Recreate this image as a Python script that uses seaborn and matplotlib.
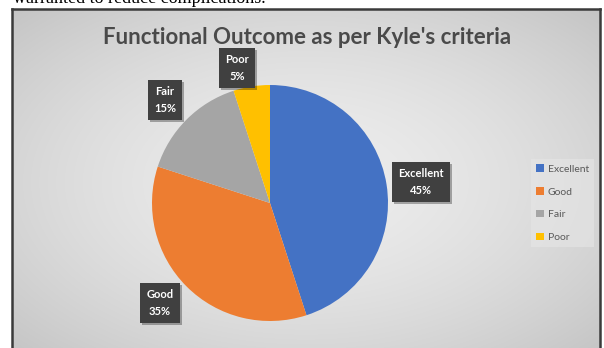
import numpy as np
import matplotlib
matplotlib.use("Agg")
import matplotlib.pyplot as plt
import matplotlib.patches as mpatches
import matplotlib.patheffects as pe
import seaborn as sns

# ---- data ----
categories = ["Excellent", "Good", "Fair", "Poor"]
values = [45, 35, 15, 5]
colors = ["#4472C4", "#ED7D31", "#A5A5A5", "#FFC000"]
title = "Functional Outcome as per Kyle's criteria"
caption = "warranted to reduce complications."

sns.set_style("white")
plt.rcParams['font.family'] = ['Lato', 'DejaVu Sans']

W, H = 604, 348
fig = plt.figure(figsize=(W / 100, H / 100), dpi=100)
fig.patch.set_facecolor("white")

def px_rect(x0, y0, x1, y1):
    return [x0 / W, 1 - y1 / H, (x1 - x0) / W, (y1 - y0) / H]

# background frame with radial gradient
bg = fig.add_axes(px_rect(12, 9, 600, 356))
yy, xx = np.mgrid[-1:1:200j, -1:1:300j]
r = np.sqrt(xx ** 2 + yy ** 2) / np.sqrt(2)
grad = 0.93 - 0.16 * r ** 1.6
bg.imshow(np.dstack([grad, grad, grad]), aspect="auto", extent=[0, 1, 0, 1],
          interpolation="bilinear")
bg.set_xticks([]); bg.set_yticks([])
for s in bg.spines.values():
    s.set_color("#3a3a3a")
    s.set_linewidth(1.8)

# caption line (cut off at top, as in the source)
fig.text(13 / W, 1 - 3 / H, caption, family="Liberation Serif", fontsize=13,
         color="black", va="baseline", ha="left")

# title
fig.text(307 / W, 1 - 38 / H, title, fontsize=16, fontweight="bold",
         color="#4a4a4a", ha="center", va="center")

# pie
cx, cy, R = 270, 203, 118
ax = fig.add_axes(px_rect(cx - R, cy - R, cx + R, cy + R))
ax.patch.set_alpha(0)
wedges, _ = ax.pie(values, colors=colors, startangle=90, counterclock=False,
                   radius=1, wedgeprops=dict(linewidth=0))
ax.set_xlim(-1, 1); ax.set_ylim(-1, 1)
ax.set_aspect("equal")
ax.axis("off")

label_px = [(421, 182), (160, 303), (165, 100), (237, 68)]
for cat, val, (lx, ly) in zip(categories, values, label_px):
    x = (lx - cx) / R
    y = (cy - ly) / R
    t = ax.text(x, y, f"{cat}\n{val}%", ha="center", va="center", fontsize=8,
                fontweight="bold", color="white", linespacing=1.7,
                bbox=dict(boxstyle="square,pad=0.55", facecolor="#404040",
                          edgecolor="none"), clip_on=False)
    t.get_bbox_patch().set_path_effects([
        pe.SimplePatchShadow(offset=(1.5, -1.5), shadow_rgbFace="black", alpha=0.3),
        pe.Normal()])

# legend
handles = [mpatches.Patch(facecolor=c, edgecolor="none") for c in colors]
leg = fig.legend(handles, categories, loc="upper left",
                 bbox_to_anchor=(526 / W, 1 - 154 / H), frameon=True,
                 fontsize=7.5, labelspacing=1.3, handlelength=0.7,
                 handleheight=0.7, handletextpad=0.4, borderpad=0.5,
                 fancybox=False)
leg.get_frame().set_facecolor("#e6e6e6")
leg.get_frame().set_edgecolor("none")
leg.get_frame().set_alpha(0.6)
for t in leg.get_texts():
    t.set_color("#595959")

fig.savefig("out.png", dpi=100)
